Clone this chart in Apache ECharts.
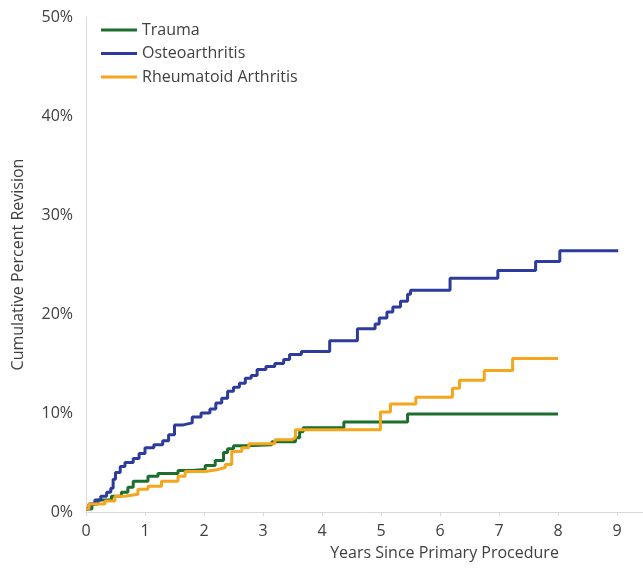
<!DOCTYPE html>
<html>
<head>
<meta charset="utf-8">
<script src="https://cdn.jsdelivr.net/npm/echarts@6/dist/echarts.min.js"></script>
<style>
  html, body { margin: 0; padding: 0; background: #fff; }
  #chart { width: 643px; height: 574px; }
</style>
</head>
<body>
<div id="chart"></div>
<script>
  // years since primary procedure / cumulative percent revision
  var traumaYears = [0, 0.1, 0.2, 0.43, 0.6, 0.71, 0.8, 1.05, 1.22, 1.56, 1.8, 2.02, 2.19, 2.33, 2.4, 2.5, 2.7, 3.15, 3.55, 3.62, 3.68, 4.37, 5.45, 8.0]
  var traumaPct = [0.3, 0.8, 1.2, 1.6, 2.0, 2.5, 3.1, 3.6, 3.9, 4.2, 4.3, 4.7, 5.2, 6.0, 6.4, 6.7, 6.8, 7.1, 7.5, 8.1, 8.5, 9.1, 9.9, 9.9]

  var osteoYears = [0, 0.05, 0.15, 0.25, 0.35, 0.42, 0.46, 0.5, 0.58, 0.66, 0.8, 0.9, 1.0, 1.15, 1.3, 1.4, 1.5, 1.65, 1.8, 1.95, 2.1, 2.2, 2.3, 2.4, 2.5, 2.6, 2.7, 2.8, 2.9, 3.05, 3.2, 3.35, 3.45, 3.65, 4.13, 4.6, 4.9, 4.97, 5.1, 5.2, 5.33, 5.45, 5.5, 6.17, 6.98, 7.62, 8.03, 9.02]
  var osteoPct = [0.3, 0.8, 1.2, 1.6, 2.0, 2.4, 3.3, 4.0, 4.6, 5.0, 5.4, 5.9, 6.5, 6.8, 7.2, 7.8, 8.8, 9.0, 9.6, 10.0, 10.4, 11.0, 11.5, 12.2, 12.6, 13.0, 13.5, 13.8, 14.4, 14.7, 15.0, 15.4, 15.9, 16.2, 17.3, 18.5, 19.0, 19.6, 20.2, 20.7, 21.3, 22.0, 22.4, 23.6, 24.4, 25.3, 26.4, 26.4]

  var rheumYears = [0, 0.05, 0.32, 0.49, 0.66, 0.88, 1.05, 1.28, 1.56, 1.68, 2.02, 2.24, 2.36, 2.47, 2.64, 2.76, 3.2, 3.49, 3.55, 4.99, 5.16, 5.59, 6.21, 6.33, 6.75, 7.23, 8.0]
  var rheumPct = [0.3, 0.8, 1.1, 1.6, 1.8, 2.3, 2.6, 3.1, 3.6, 4.1, 4.3, 4.5, 4.8, 6.1, 6.5, 6.9, 7.3, 7.5, 8.3, 10.1, 10.9, 11.6, 12.5, 13.3, 14.3, 15.5, 15.5]

  var yTicks = [0, 10, 20, 30, 40, 50]

  function pairs (xs, ys) {
    var out = []
    for (var i = 0; i < xs.length; i++) {
      out.push([xs[i], ys[i]])
    }
    return out
  }

  function stepSeries (name, color, xs, ys) {
    return {
      name: name,
      type: 'line',
      step: 'end',
      symbol: 'none',
      data: pairs(xs, ys),
      lineStyle: {color: color, width: 3},
      itemStyle: {color: color},
      animation: false
    }
  }

  var chart = echarts.init(document.getElementById('chart'))
  var font = 'Open Sans, sans-serif'
  var txt = '#404040'

  chart.setOption({
    backgroundColor: '#fff',
    textStyle: {fontFamily: font},
    legend: {
      orient: 'vertical',
      left: 96,
      top: 17,
      itemWidth: 36,
      itemHeight: 3,
      itemGap: 7.5,
      icon: 'rect',
      textStyle: {fontSize: 16, color: txt, fontFamily: font},
      data: ['Trauma', 'Osteoarthritis', 'Rheumatoid Arthritis']
    },
    grid: {left: 86, right: 0, top: 17, bottom: 62},
    xAxis: {
      type: 'value',
      min: 0,
      max: 9.44,
      interval: 1,
      name: 'Years Since Primary Procedure',
      nameLocation: 'middle',
      nameGap: 33,
      nameTextStyle: {fontSize: 16, color: txt, padding: [0, 0, 0, 160]},
      axisLine: {show: true, lineStyle: {color: '#d9d9d9', width: 1}},
      axisTick: {show: true, length: 4, lineStyle: {color: '#d9d9d9'}},
      splitLine: {show: false},
      axisLabel: {
        fontSize: 16,
        color: txt,
        margin: 11,
        showMaxLabel: false,
        formatter: function (v) { return Number.isInteger(v) ? String(v) : '' }
      }
    },
    yAxis: {
      type: 'value',
      min: yTicks[0],
      max: yTicks[yTicks.length - 1],
      interval: 10,
      name: 'Cumulative Percent Revision',
      nameLocation: 'middle',
      nameGap: 60,
      nameTextStyle: {fontSize: 16, color: txt},
      axisLine: {show: true, lineStyle: {color: '#d9d9d9', width: 1}},
      axisTick: {show: false},
      splitLine: {show: false},
      axisLabel: {fontSize: 16, color: txt, margin: 13, formatter: '{value}%'}
    },
    series: [
      stepSeries('Trauma', '#1b6e2c', traumaYears, traumaPct),
      stepSeries('Osteoarthritis', '#2c3b9c', osteoYears, osteoPct),
      stepSeries('Rheumatoid Arthritis', '#f6a61c', rheumYears, rheumPct)
    ]
  })
</script>
</body>
</html>
